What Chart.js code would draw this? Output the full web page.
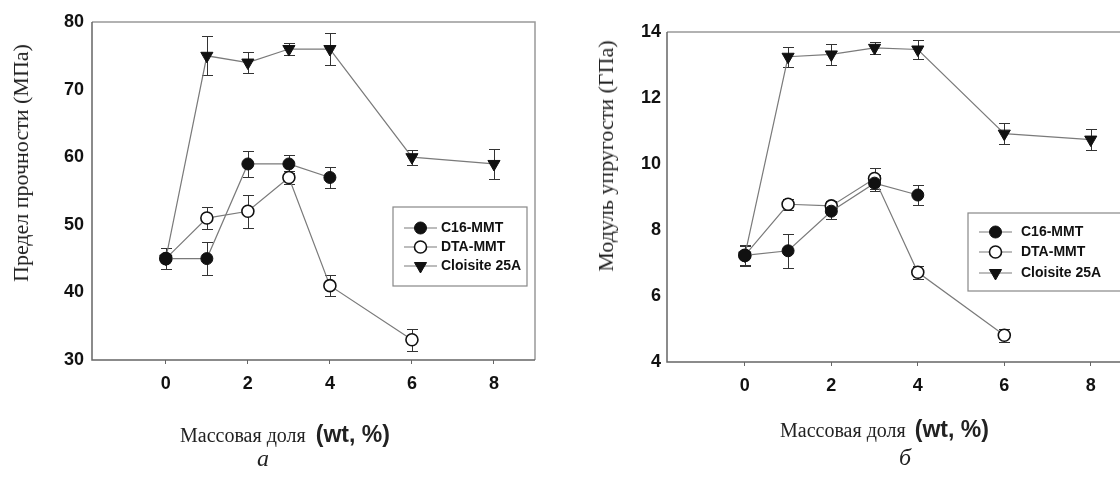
<!DOCTYPE html>
<html>
<head>
<meta charset="utf-8">
<script src="https://cdn.jsdelivr.net/npm/chart.js@4.4.1/dist/chart.umd.min.js"></script>
<style>
  html, body { margin: 0; padding: 0; background: #fff; }
  body { position: relative; width: 1120px; height: 477px; overflow: hidden; }
  canvas { position: absolute; top: 0; }
  .lbl { position: absolute; white-space: nowrap; color: #222; line-height: 1; }
  .serif { font-family: "Liberation Serif", "DejaVu Serif", serif; }
  .sans { font-family: "Liberation Sans", Arial, sans-serif; font-weight: bold; }
  .ytitle { transform: translate(-50%, -50%) rotate(-90deg); }
</style>
</head>
<body>
<canvas id="chart-strength" width="560" height="477" style="left:0"></canvas>
<canvas id="chart-modulus" width="600" height="477" style="left:560px"></canvas>

<div class="lbl serif ytitle" style="left:21px;top:163px;font-size:22px">Предел прочности (МПа)</div>
<div class="lbl serif ytitle" style="left:606px;top:156px;font-size:22px">Модуль упругости (ГПа)</div>

<div class="lbl" style="left:180px;top:423px"><span class="serif" style="font-size:20px">Массовая доля</span> <span class="sans" style="font-size:23px;margin-left:6px">(wt, %)</span></div>
<div class="lbl" style="left:780px;top:418px"><span class="serif" style="font-size:20px">Массовая доля</span> <span class="sans" style="font-size:23px;margin-left:5px">(wt, %)</span></div>

<div class="lbl serif" style="left:257px;top:446px;font-size:24px;font-style:italic">а</div>
<div class="lbl serif" style="left:899px;top:445px;font-size:24px;font-style:italic">б</div>

<script>
// ---- data ----
const seriesNames = ['C16-MMT', 'DTA-MMT', 'Cloisite 25A'];

const wtC16 = [0, 1, 2, 3, 4];
const wtDTA = [0, 1, 2, 3, 4, 6];
const wtCloisite = [0, 1, 2, 3, 4, 6, 8];

// tensile strength, MPa (a)
const strengthC16 = [45, 45, 59, 59, 57];
const strengthC16Err = [1.55, 2.45, 1.9, 1.3, 1.5];
const strengthDTA = [45, 51, 52, 57, 41, 33];
const strengthDTAErr = [1.5, 1.6, 2.4, 0.9, 1.55, 1.6];
const strengthCloisite = [45, 75, 74, 76, 76, 60, 59];
const strengthCloisiteErr = [1.5, 2.9, 1.5, 0.9, 2.4, 1.1, 2.2];

// elastic modulus, GPa (б)
const modulusC16 = [7.23, 7.37, 8.57, 9.42, 9.06];
const modulusC16Err = [0.31, 0.51, 0.23, 0.25, 0.31];
const modulusDTA = [7.23, 8.78, 8.73, 9.56, 6.72, 4.81];
const modulusDTAErr = [0.3, 0.16, 0.16, 0.33, 0.19, 0.2];
const modulusCloisite = [7.23, 13.25, 13.32, 13.52, 13.47, 10.92, 10.74];
const modulusCloisiteErr = [0.3, 0.3, 0.31, 0.18, 0.3, 0.32, 0.31];

const xTicks = [0, 2, 4, 6, 8];
const strengthTicks = [30, 40, 50, 60, 70, 80];
const modulusTicks = [4, 6, 8, 10, 12, 14];

// ---- styling ----
const LINE = '#7a7a7a';
const INK = '#111';
const markers = [
  { style: 'circle', radius: 6, bg: INK, rotation: 0, bw: 1 },
  { style: 'circle', radius: 6, bg: '#fff', rotation: 0, bw: 1.6 },
  { style: 'triangle', radius: 7, bg: INK, rotation: 180, bw: 1 }
];
const tickFont = { family: '"Liberation Sans", Arial, sans-serif', size: 18, weight: 'bold' };

const toPoints = (xs, ys) => xs.map((x, i) => ({ x, y: ys[i] }));

// ============================================================
// plugins
// ============================================================

const frame = {
  id: 'frame',
  beforeDatasetsDraw(chart) {
    const { ctx, chartArea: a } = chart;
    ctx.save();
    ctx.lineWidth = 1.5;
    ctx.strokeStyle = '#999';
    ctx.beginPath();
    ctx.moveTo(a.left, a.top); ctx.lineTo(a.right, a.top); ctx.lineTo(a.right, a.bottom);
    ctx.stroke();
    ctx.strokeStyle = '#666';
    ctx.beginPath();
    ctx.moveTo(a.left, a.top); ctx.lineTo(a.left, a.bottom); ctx.lineTo(a.right, a.bottom);
    ctx.stroke();
    ctx.restore();
  }
};

const errorBars = {
  id: 'errorBars',
  beforeDatasetsDraw(chart) {
    const { ctx, scales: { x, y } } = chart;
    ctx.save();
    ctx.strokeStyle = '#333';
    ctx.lineWidth = 1;
    chart.data.datasets.forEach(ds => {
      (ds.errors || []).forEach((e, i) => {
        if (!e) return;
        const p = ds.data[i];
        const px = Math.round(x.getPixelForValue(p.x)) + 0.5;
        const top = Math.round(y.getPixelForValue(p.y + e)) + 0.5;
        const bot = Math.round(y.getPixelForValue(p.y - e)) + 0.5;
        ctx.beginPath();
        ctx.moveTo(px, top); ctx.lineTo(px, bot);
        ctx.moveTo(px - 5.5, top); ctx.lineTo(px + 5.5, top);
        ctx.moveTo(px - 5.5, bot); ctx.lineTo(px + 5.5, bot);
        ctx.stroke();
      });
    });
    ctx.restore();
  }
};

const boxLegend = {
  id: 'boxLegend',
  afterDatasetsDraw(chart, args, o) {
    const ctx = chart.ctx;
    ctx.save();
    ctx.fillStyle = '#fff';
    ctx.fillRect(o.left, o.top, o.width, o.height);
    ctx.strokeStyle = '#888';
    ctx.lineWidth = 1.2;
    ctx.strokeRect(o.left, o.top, o.width, o.height);
    ctx.font = 'bold 14px "Liberation Sans", Arial, sans-serif';
    ctx.textBaseline = 'middle';
    chart.data.datasets.forEach((ds, k) => {
      const yy = o.rows[k];
      const m = markers[k];
      ctx.strokeStyle = LINE; ctx.lineWidth = 1.2;
      ctx.beginPath(); ctx.moveTo(o.lineFrom, yy); ctx.lineTo(o.lineTo, yy); ctx.stroke();
      ctx.fillStyle = m.bg; ctx.strokeStyle = INK; ctx.lineWidth = m.bw;
      Chart.helpers.drawPoint(ctx, { pointStyle: m.style, radius: m.radius, rotation: m.rotation, borderWidth: m.bw },
        (o.lineFrom + o.lineTo) / 2, yy);
      ctx.fillStyle = INK;
      ctx.fillText(ds.label, o.textX, yy);
    });
    ctx.restore();
  }
};

// ============================================================
// charts
// ============================================================

function makeChart(canvasId, yTicks, ys, errs, box, legendBox) {
  const xs = [wtC16, wtDTA, wtCloisite];
  const datasets = seriesNames.map((name, k) => ({
    label: name,
    data: toPoints(xs[k], ys[k]),
    errors: errs[k],
    showLine: true,
    borderColor: LINE,
    borderWidth: 1.2,
    pointStyle: markers[k].style,
    pointRadius: markers[k].radius,
    pointRotation: markers[k].rotation,
    pointBackgroundColor: markers[k].bg,
    pointBorderColor: INK,
    pointBorderWidth: markers[k].bw
  }));
  return new Chart(document.getElementById(canvasId), {
    type: 'scatter',
    data: { datasets },
    options: {
      responsive: false,
      animation: false,
      devicePixelRatio: 1,
      layout: { padding: { left: 0, top: box.top, right: box.right, bottom: 0 } },
      plugins: { legend: { display: false }, tooltip: { enabled: false }, boxLegend: legendBox },
      scales: {
        x: {
          type: 'linear', min: -1.8, max: 9,
          afterBuildTicks: s => { s.ticks = xTicks.map(v => ({ value: v })); },
          afterFit: s => { s.height = box.xHeight; },
          grid: { display: true, drawOnChartArea: false, drawTicks: true, tickLength: 4, color: '#666' },
          border: { display: false },
          ticks: { font: tickFont, color: INK, padding: 9 }
        },
        y: {
          type: 'linear', min: yTicks[0], max: yTicks[yTicks.length - 1],
          afterBuildTicks: s => { s.ticks = yTicks.map(v => ({ value: v })); },
          afterFit: s => { s.width = box.yWidth; },
          grid: { display: false, drawTicks: false },
          border: { display: false },
          ticks: { font: tickFont, color: INK, padding: box.yPad }
        }
      }
    },
    plugins: [frame, errorBars, boxLegend]
  });
}

makeChart('chart-strength', strengthTicks,
  [strengthC16, strengthDTA, strengthCloisite],
  [strengthC16Err, strengthDTAErr, strengthCloisiteErr],
  { top: 22, right: 25, xHeight: 117, yWidth: 92, yPad: 8 },
  { left: 393, top: 207, width: 134, height: 79, rows: [228, 247, 266], lineFrom: 404, lineTo: 437, textX: 441 });

makeChart('chart-modulus', modulusTicks,
  [modulusC16, modulusDTA, modulusCloisite],
  [modulusC16Err, modulusDTAErr, modulusCloisiteErr],
  { top: 32, right: 26, xHeight: 115, yWidth: 107, yPad: 6 },
  { left: 408, top: 213, width: 170, height: 78, rows: [232, 252, 273], lineFrom: 419, lineTo: 452, textX: 461 });
</script>
</body>
</html>
